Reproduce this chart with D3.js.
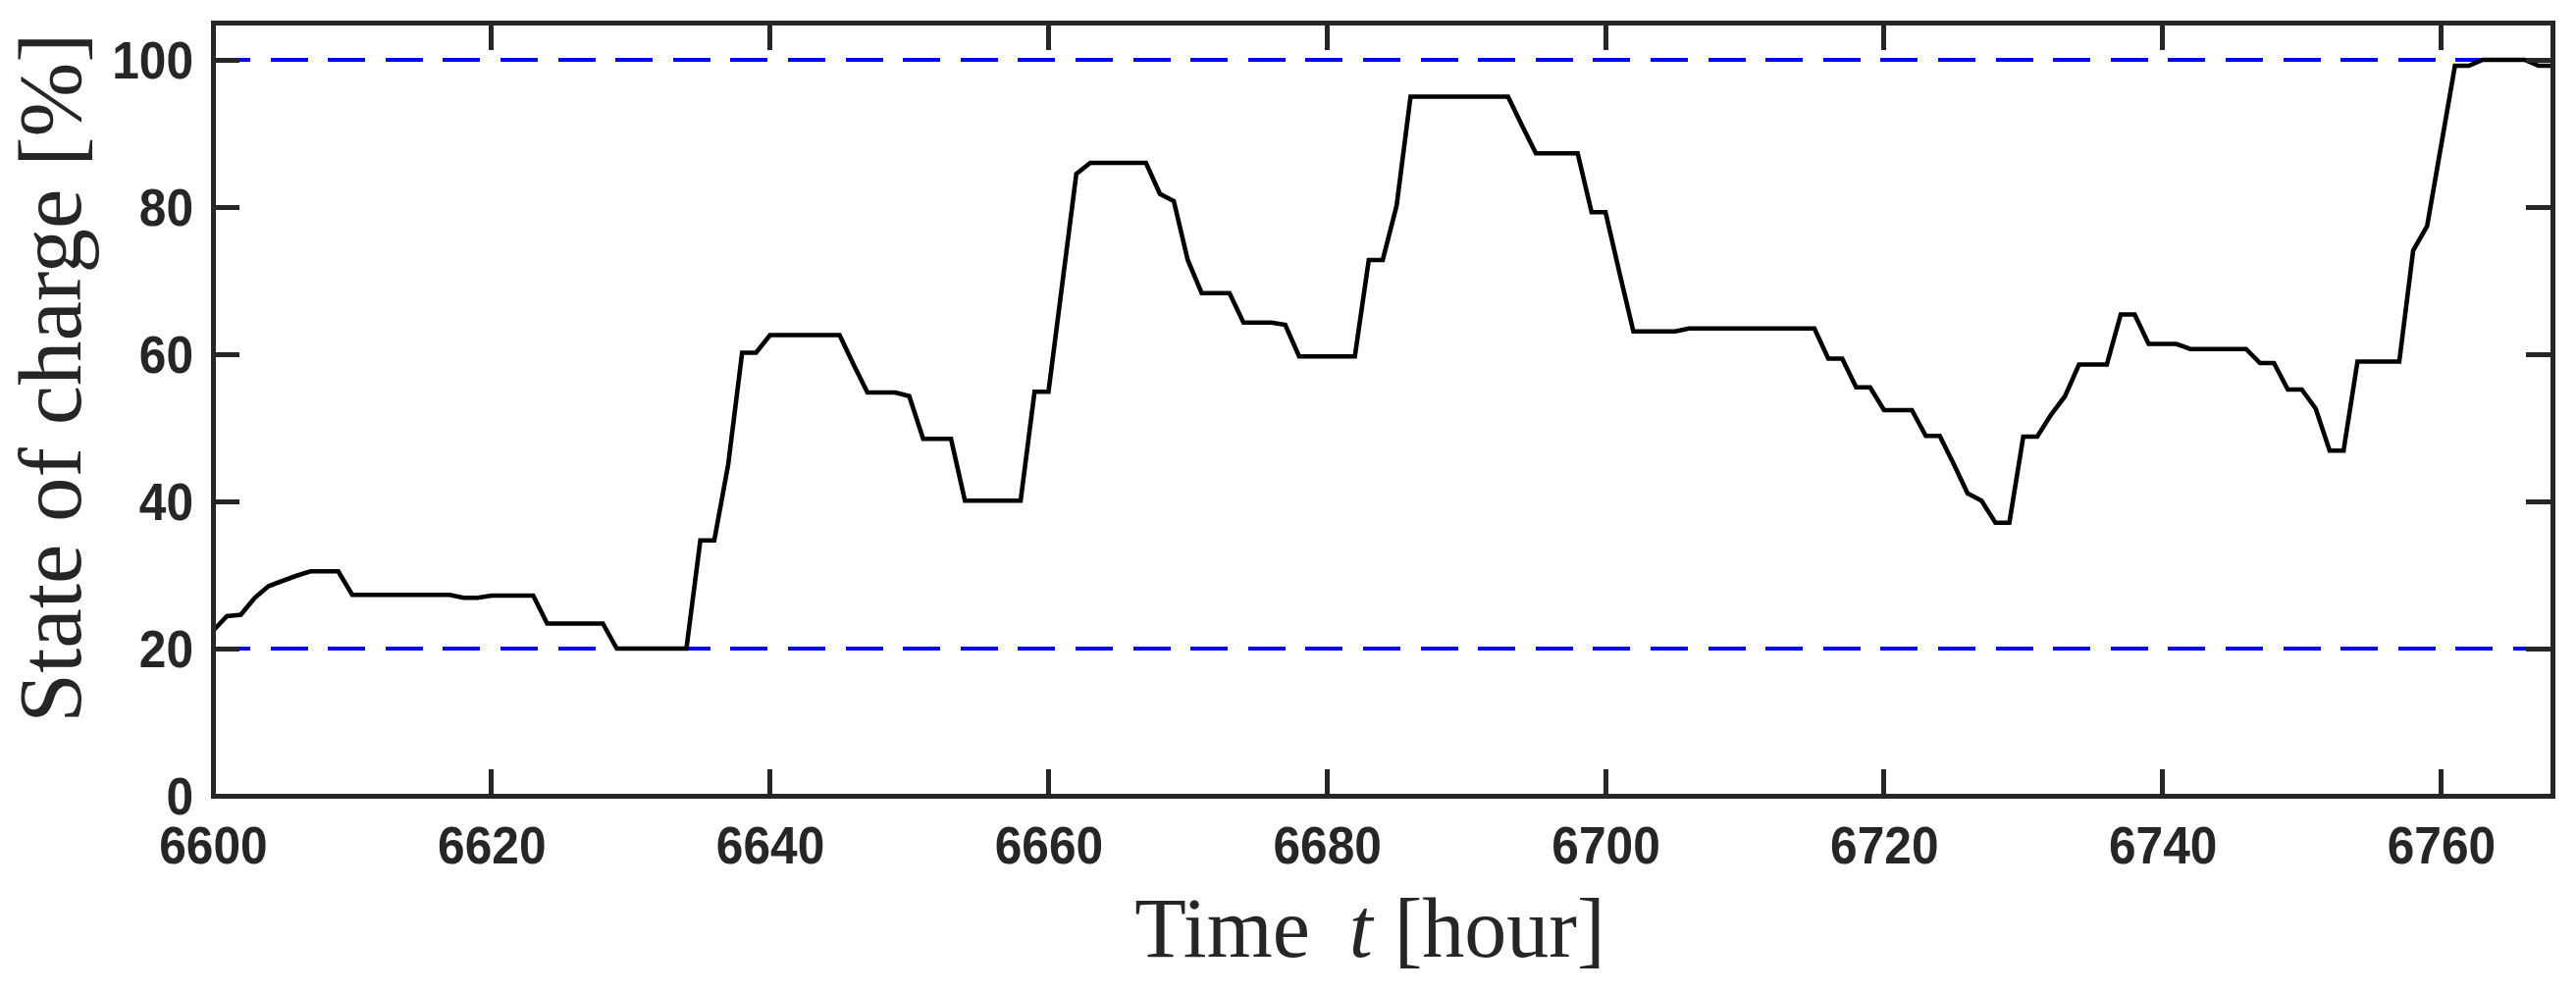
<!DOCTYPE html>
<html>
<head>
<meta charset="utf-8">
<script src="https://cdn.jsdelivr.net/npm/d3@7"></script>
<style>
  html, body { margin: 0; padding: 0; background: #fff; }
  svg { display: block; }
</style>
</head>
<body>
<svg id="chart" width="2625" height="1011"></svg>
<script>
// ---- data ----
const startHour = 6600;
const socValues = [
  22.4, 24.4, 24.6, 26.9, 28.5, 29.2, 29.9, 30.5, 30.5, 30.5,   // 6600-6609
  27.3, 27.3, 27.3, 27.3, 27.3, 27.3, 27.3, 27.3, 26.9, 26.9,   // 6610-6619
  27.2, 27.2, 27.2, 27.2, 23.4, 23.4, 23.4, 23.4, 23.4, 20.0,   // 6620-6629
  20.0, 20.0, 20.0, 20.0, 20.0, 34.7, 34.7, 45.0, 60.2, 60.2,   // 6630-6639
  62.6, 62.6, 62.6, 62.6, 62.6, 62.6, 58.6, 54.8, 54.8, 54.8,   // 6640-6649
  54.3, 48.5, 48.5, 48.5, 40.1, 40.1, 40.1, 40.1, 40.1, 54.9,   // 6650-6659
  54.9, 69.7, 84.5, 86.0, 86.0, 86.0, 86.0, 86.0, 81.8, 80.8,   // 6660-6669
  72.8, 68.3, 68.3, 68.3, 64.3, 64.3, 64.3, 64.0, 59.7, 59.7,   // 6670-6679
  59.7, 59.7, 59.7, 72.8, 72.8, 80.2, 95.0, 95.0, 95.0, 95.0,   // 6680-6689
  95.0, 95.0, 95.0, 95.0, 91.1, 87.3, 87.3, 87.3, 87.3, 79.3,   // 6690-6699
  79.3, 71.1, 63.1, 63.1, 63.1, 63.1, 63.5, 63.5, 63.5, 63.5,   // 6700-6709
  63.5, 63.5, 63.5, 63.5, 63.5, 63.5, 59.4, 59.4, 55.5, 55.5,   // 6710-6719
  52.4, 52.4, 52.4, 48.9, 48.9, 45.1, 41.1, 40.1, 37.1, 37.1,   // 6720-6729
  48.8, 48.8, 51.8, 54.3, 58.6, 58.6, 58.6, 65.4, 65.4, 61.4,   // 6730-6739
  61.4, 61.4, 60.7, 60.7, 60.7, 60.7, 60.7, 58.8, 58.8, 55.2,   // 6740-6749
  55.2, 52.6, 46.9, 46.9, 59.0, 59.0, 59.0, 59.0, 74.1, 77.4,   // 6750-6759
  88.3, 99.2, 99.2, 100.0, 100.0, 100.0, 100.0, 99.2, 99.2      // 6760-6768
];
const limitValues = [20, 100];
const xTicks = [6600, 6620, 6640, 6660, 6680, 6700, 6720, 6740, 6760];
const yTicks = [0, 20, 40, 60, 80, 100];
const xDomain = [6600, 6768];
const yDomain = [0, 105];

// ---- layout ----
const L = 217, R = 2601, T = 23.5, B = 811;
const axisColor = "#262626";
const tickLen = 27;
const svg = d3.select("#chart");

const x = d3.scaleLinear().domain(xDomain).range([L, R]);
const y = d3.scaleLinear().domain(yDomain).range([B, T]);

const data = socValues.map((v, i) => ({ t: startHour + i, v }));

// limit lines (dashed blue)
svg.append("g").selectAll("line").data(limitValues).join("line")
  .attr("x1", x(xDomain[0])).attr("x2", x(xDomain[1]))
  .attr("y1", d => y(d)).attr("y2", d => y(d))
  .attr("stroke", "#0000ff").attr("stroke-width", 4)
  .attr("shape-rendering", "crispEdges")
  .attr("stroke-dasharray", "38,20.6");

// SOC line
const line = d3.line().x(d => x(d.t)).y(d => y(d.v));
svg.append("path").datum(data)
  .attr("d", line)
  .attr("fill", "none").attr("stroke", "#000").attr("stroke-width", 4.6)
  .attr("stroke-linejoin", "miter");

// frame
svg.append("rect")
  .attr("x", L).attr("y", T).attr("width", R - L).attr("height", B - T)
  .attr("fill", "none").attr("stroke", axisColor).attr("stroke-width", 5)
  .attr("shape-rendering", "crispEdges");

// tick marks, inward on all four sides
const tickPath = d3.path();
xTicks.forEach(d => {
  tickPath.moveTo(x(d), B); tickPath.lineTo(x(d), B - tickLen);
  tickPath.moveTo(x(d), T); tickPath.lineTo(x(d), T + tickLen);
});
yTicks.forEach(d => {
  tickPath.moveTo(L, y(d)); tickPath.lineTo(L + tickLen, y(d));
  tickPath.moveTo(R, y(d)); tickPath.lineTo(R - tickLen, y(d));
});
svg.append("path")
  .attr("d", tickPath.toString())
  .attr("fill", "none")
  .attr("stroke", axisColor)
  .attr("stroke-width", 5)
  .attr("shape-rendering", "crispEdges");

// tick labels via d3 axes
const fontTick = "'Liberation Sans', Arial, Helvetica, sans-serif";
const gx = svg.append("g").attr("transform", `translate(0,${B})`)
  .call(d3.axisBottom(x).tickValues(xTicks).tickSize(0).tickPadding(0).tickFormat(d3.format("d")));
gx.select(".domain").remove();
gx.selectAll(".tick line").remove();
gx.selectAll(".tick text")
  .attr("y", 69).attr("dy", null)
  .attr("fill", axisColor).attr("font-family", fontTick).attr("font-weight", "bold")
  .attr("font-size", 54).attr("transform", "scale(0.92,1)");

const gy = svg.append("g").attr("transform", `translate(${L},0)`)
  .call(d3.axisLeft(y).tickValues(yTicks).tickSize(0).tickPadding(0).tickFormat(d3.format("d")));
gy.select(".domain").remove();
gy.selectAll(".tick line").remove();
gy.selectAll(".tick text")
  .attr("x", -20 / 0.92).attr("dy", "0.34em")
  .attr("fill", axisColor).attr("font-family", fontTick).attr("font-weight", "bold")
  .attr("font-size", 54).attr("transform", "scale(0.92,1)");

// axis titles
const fontTitle = "'Liberation Serif', 'Times New Roman', Times, serif";
const xt = svg.append("text")
  .attr("x", 1396).attr("y", 975)
  .attr("text-anchor", "middle")
  .attr("fill", axisColor).attr("font-family", fontTitle).attr("font-size", 86);
xt.append("tspan").text("Time");
xt.append("tspan").attr("dx", 40).attr("font-style", "italic").text("t");
xt.append("tspan").attr("dx", 22).text("[hour]");

svg.append("text")
  .attr("transform", "translate(82,385) rotate(-90)")
  .attr("text-anchor", "middle")
  .attr("fill", axisColor).attr("font-family", fontTitle).attr("font-size", 91)
  .text("State of charge [%]");
</script>
</body>
</html>
